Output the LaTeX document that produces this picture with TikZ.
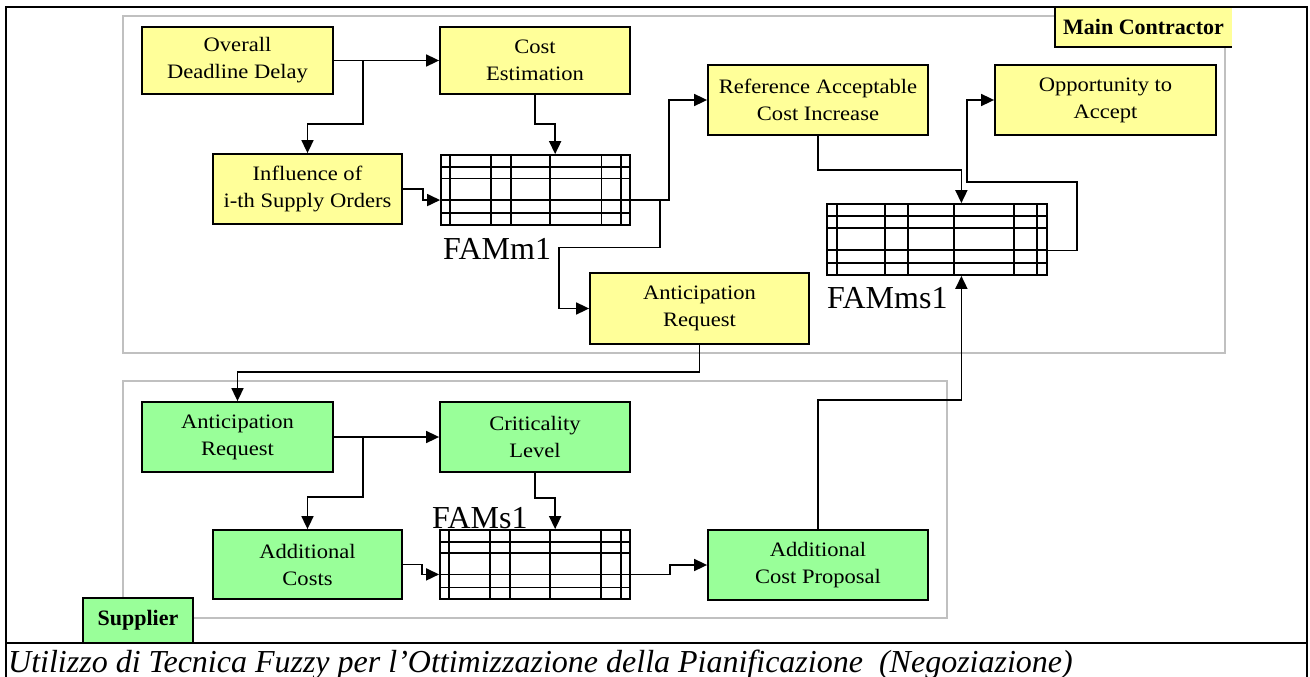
\documentclass[tikz,border=0pt]{standalone}
\usepackage{fontspec}
\setmainfont{Liberation Serif}
\newfontfamily\boxfont{Liberation Serif}[FakeStretch=1.1]
\usepackage{tikz}
\usetikzlibrary{
  positioning,
  arrows.meta,
  calc
}
\definecolor{mcyellow}{RGB}{255,255,153}
\definecolor{supgreen}{RGB}{153,255,153}
\definecolor{groupgray}{RGB}{192,192,192}

\begin{document}
\begin{tikzpicture}[
    x=1pt, y=-1pt,
    mcbox/.style={draw, line width=1.8pt, fill=mcyellow, align=center, inner sep=0pt,
                  font=\boxfont\fontsize{20.5}{27}\selectfont},
    supbox/.style={mcbox, fill=supgreen},
    fam/.style={draw, line width=1.8pt, inner sep=0pt},
    famlabel/.style={inner sep=0pt, anchor=base west, font=\fontsize{32}{32}\selectfont},
    tag/.style={inner sep=0pt, font=\bfseries\fontsize{22}{22}\selectfont},
    link/.style={-{Triangle[length=13pt, width=12pt]}, line width=1.7pt},
    group/.style={draw=groupgray, line width=1.5pt},
    frame/.style={line width=2.5pt}
]
    \useasboundingbox (0,0) rectangle (1310,677);

    % gruppi
    \draw[group] (123,16) rectangle (1225,353);
    \draw[group] (123,381) rectangle (947,618);

    % Main Contractor
    \node[mcbox, minimum width=191pt, minimum height=67pt] (odd) at (237.5,60.5) {Overall\\Deadline Delay};
    \node[mcbox, minimum width=190pt, minimum height=67pt] (ce) at (535,60.5) {Cost\\Estimation};
    \node[mcbox, minimum width=189pt, minimum height=70pt] (inf) at (307.5,189) {Influence of\\i-th Supply Orders};
    \node[fam, minimum width=189pt, minimum height=70pt] (famm) at (535.5,190) {};
    \node[mcbox, minimum width=220pt, minimum height=70pt] (raci) at (818,100) {Reference Acceptable\\Cost Increase};
    \node[mcbox, minimum width=221pt, minimum height=70pt] (opp) at (1105.5,100) {Opportunity to\\Accept};
    \node[fam, minimum width=220pt, minimum height=71pt] (famms) at (937,239.5) {};
    \node[mcbox, minimum width=219pt, minimum height=71pt] (arm) at (699.5,308.5) {Anticipation\\Request};

    % Supplier
    \node[supbox, minimum width=191pt, minimum height=70pt] (ars) at (237.5,437) {Anticipation\\Request};
    \node[supbox, minimum width=190pt, minimum height=70pt] (cl) at (535,437) {Criticality\\Level};
    \node[supbox, minimum width=189pt, minimum height=69pt] (ac) at (307.5,564.5) {Additional\\Costs};
    \node[fam, minimum width=190pt, minimum height=69pt] (fams) at (535,564.5) {};
    \node[supbox, minimum width=220pt, minimum height=70pt] (acp) at (818,565) {Additional\\Cost Proposal};

    % griglie FAM
    \foreach \g in {famm, famms, fams} {
        \foreach \f in {0.05, 0.265, 0.37, 0.578, 0.846, 0.95}
            \draw[line width=1.8pt] ($(\g.north west)!\f!(\g.north east)$) -- ($(\g.south west)!\f!(\g.south east)$);
        \foreach \f in {0.18, 0.34, 0.64, 0.825}
            \draw[line width=1.8pt] ($(\g.north west)!\f!(\g.south west)$) -- ($(\g.north east)!\f!(\g.south east)$);
    }
    \node[famlabel] (fammlab) at (443,259) {FAMm1};
    \node[famlabel] (fammslab) at (827,308) {FAMms1};
    \node[famlabel] (famslab) at (432,528) {FAMs1};

    % collegamenti
    \coordinate (fammout) at ($(famm.north east)!0.64!(famm.south east)$);
    \coordinate (fammsout) at ($(famms.north east)!0.65!(famms.south east)$);
    \draw[link] (odd) -- (ce);
    \draw[link] ($(odd.east)+(29,0)$) |- ($(inf.north)+(0,-29)$) -- (inf.north);
    \draw[link] (ce.south) -- ++(0,29) -| ($(famm.north west)!0.603!(famm.north east)$);
    \draw[link] (inf.east) -- ++(20,0) |- ($(famm.north west)!0.64!(famm.south west)$);
    \draw[link] (fammout) -- ++(38,0) |- (raci.west);
    \draw[link] ($(fammout)+(29,0)$) |- ($(arm.west)+(-30,-61)$) |- (arm.west);
    \draw[link] (raci.south) -- ++(0,34) -| ($(famms.north west)!0.61!(famms.north east)$);
    \draw[link] (fammsout) -- ++(29,0) |- ($(opp.west)+(-27,82)$) |- (opp.west);
    \draw[link] (arm.south) -- ++(0,27) -| (ars.north);
    \draw[link] (ars) -- (cl);
    \draw[link] ($(ars.east)+(29,0)$) |- ($(ac.north)+(0,-32)$) -- (ac.north);
    \draw[link] (cl.south) -- ++(0,25) -| ($(fams.north west)!0.605!(fams.north east)$);
    \draw[link] (ac.east) -- ++(19,0) |- ($(fams.north west)!0.64!(fams.south west)$);
    \draw[link] ($(fams.north east)!0.64!(fams.south east)$) -- ++(39,0) |- (acp.west);
    \draw[link] (acp.north) -- ++(0,-129) -| ($(famms.south west)!0.61!(famms.south east)$);

    % etichette dei gruppi
    \node[tag, fill=mcyellow, minimum width=177pt, minimum height=40pt] (mclabel) at (1143.5,27) {Main Contractor};
    \draw[line width=1.8pt] (mclabel.north west) |- (mclabel.south east);
    \node[tag, draw, line width=1.8pt, fill=supgreen, minimum width=110pt, minimum height=45pt] (suplabel) at (138,620.5) {Supplier};

    % cornice e didascalia
    \draw[frame] (6,677) |- (1307,7) -- (1307,677);
    \draw[frame] (6,643) -- (1307,643);
    \node[inner sep=0pt, anchor=base west, font=\itshape\fontsize{32}{32}\selectfont] (caption) at (8,672)
        {Utilizzo di Tecnica Fuzzy per l’Ottimizzazione della Pianificazione~ (Negoziazione)};
\end{tikzpicture}
\end{document}
